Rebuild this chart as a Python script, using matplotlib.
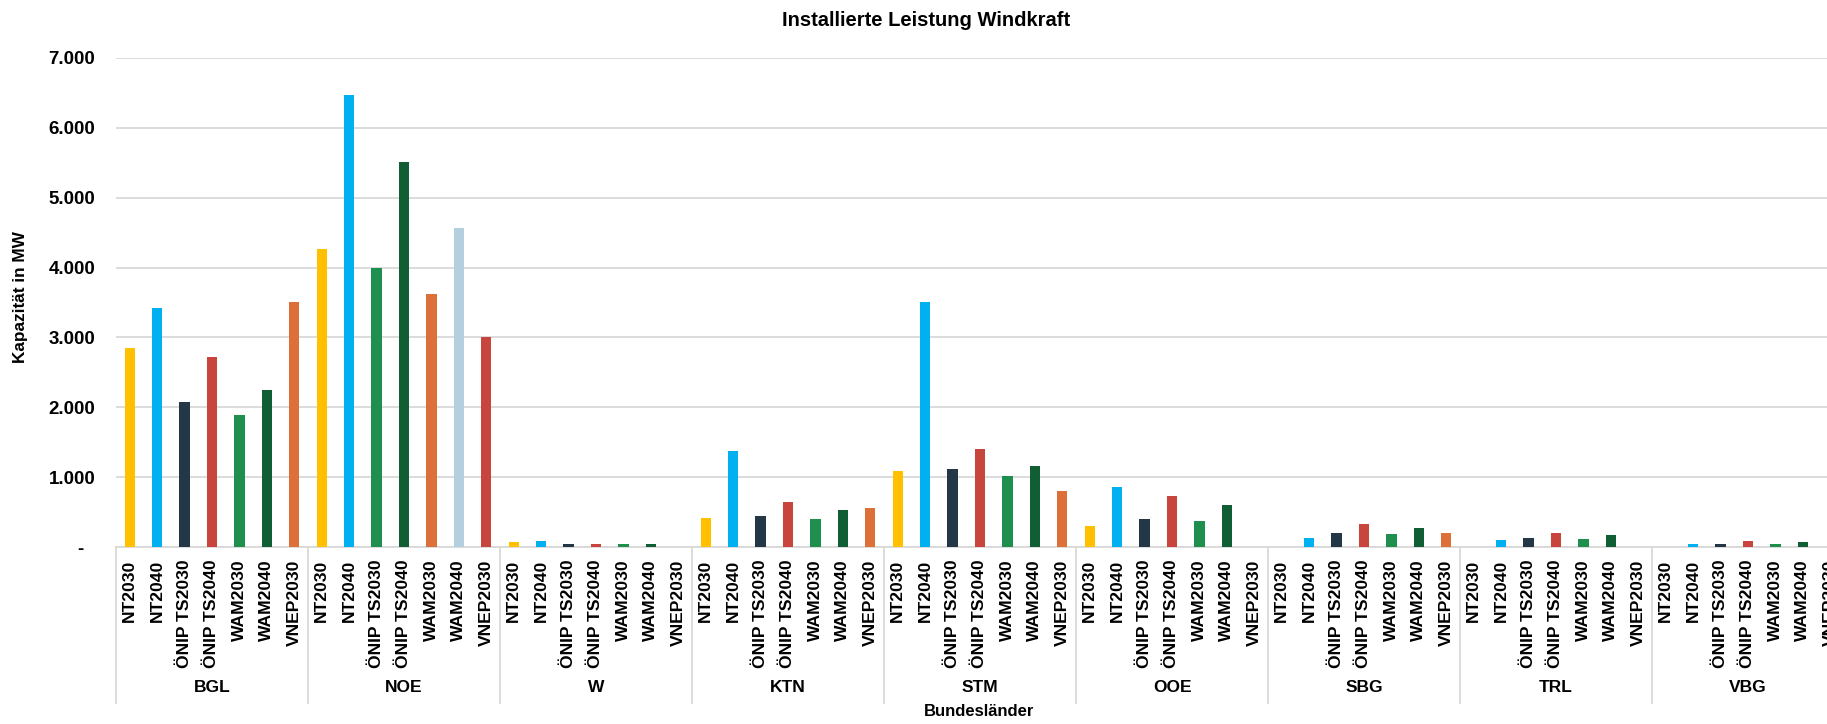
import matplotlib
matplotlib.use("Agg")
import matplotlib.pyplot as plt
import matplotlib.transforms as mtransforms

plt.rcParams['font.family'] = ['Liberation Sans', 'DejaVu Sans']

# ---- data ----
regions = ["BGL", "NOE", "W", "KTN", "STM", "OOE", "SBG", "TRL", "VBG"]
scenarios = ["NT2030", "NT2040", "ÖNIP TS2030", "ÖNIP TS2040", "WAM2030", "WAM2040", "VNEP2030"]

bgl = [2845, 3420, 2070, 2715, 1885, 2245, 3505]
noe = [4265, 6470, 3990, 5510, 3620, 4565, 3000]
w   = [67, 82, 38, 38, 38, 38, 0]
ktn = [413, 1380, 442, 644, 399, 529, 558]
stm = [1085, 3505, 1115, 1396, 1010, 1155, 803]
ooe = [298, 861, 399, 731, 370, 601, 0]
sbg = [0, 125, 197, 327, 183, 269, 197]
trl = [0, 96, 125, 197, 111, 168, 0]
vbg = [0, 38, 38, 82, 38, 67, 0]
values = [bgl, noe, w, ktn, stm, ooe, sbg, trl, vbg]

c_yellow = "#FFC000"
c_blue = "#00B0F0"
c_navy = "#243746"
c_red = "#C8453D"
c_green = "#1F8F50"
c_dkgreen = "#115E34"
c_orange = "#DD6F38"
c_ltblue = "#B4D0DE"
default_colors = [c_yellow, c_blue, c_navy, c_red, c_green, c_dkgreen, c_orange]
noe_colors = [c_yellow, c_blue, c_green, c_dkgreen, c_orange, c_ltblue, c_red]

yticks = [0, 1000, 2000, 3000, 4000, 5000, 6000, 7000]
ytick_labels = ["-  ", "1.000", "2.000", "3.000", "4.000", "5.000", "6.000", "7.000"]

# ---- figure ----
W_PX, H_PX = 1827, 724
fig = plt.figure(figsize=(W_PX / 100, H_PX / 100), dpi=100)
left_px, right_px = 116, 116 + 9 * 192
bottom_px, top_px = 547, 58
ax = fig.add_axes([left_px / W_PX, 1 - bottom_px / H_PX,
                   (right_px - left_px) / W_PX, (bottom_px - top_px) / H_PX])

n = len(scenarios)
xs, hs, cs, labels = [], [], [], []
for g, (reg, vals) in enumerate(zip(regions, values)):
    cols = noe_colors if reg == "NOE" else default_colors
    for i, v in enumerate(vals):
        xs.append(g * n + i)
        hs.append(v)
        cs.append(cols[i])
        labels.append(scenarios[i])

ax.bar(xs, hs, width=0.38, color=cs, zorder=3)
ax.set_xlim(-0.5, len(regions) * n - 0.5)
ax.set_ylim(0, 7000)

ax.set_yticks(yticks)
ax.set_yticklabels(ytick_labels, fontsize=13.5, fontweight='bold')
ax.tick_params(axis='y', length=0, pad=15)
ax.grid(axis='y', color='#D9D9D9', linewidth=1.3, zorder=0)
ax.set_axisbelow(True)

ax.set_xticks(xs)
ax.set_xticklabels(labels, rotation=90, fontsize=12.6, fontweight='bold', va='top', ha='center')
ax.tick_params(axis='x', length=0, pad=9)

for s in ['left', 'right', 'top']:
    ax.spines[s].set_visible(False)
ax.spines['bottom'].set_color('#D9D9D9')
ax.spines['bottom'].set_linewidth(1.3)

trans = mtransforms.blended_transform_factory(ax.transData, ax.transAxes)
sep_bottom = (bottom_px - 703) / (bottom_px - top_px)
for g in range(len(regions) + 1):
    xb = g * n - 0.5
    ax.plot([xb, xb], [0, sep_bottom], transform=trans, color='#D9D9D9',
            linewidth=1.3, clip_on=False)
grp_y = (bottom_px - 687) / (bottom_px - top_px)
for g, reg in enumerate(regions):
    ax.text(g * n + (n - 1) / 2, grp_y, reg, transform=trans, ha='center', va='center',
            fontsize=12.5, fontweight='bold')

fig.text(979 / W_PX, 1 - 712 / H_PX, "Bundesländer", ha='center', va='center',
         fontsize=12, fontweight='bold')
fig.text(21 / W_PX, 1 - 297 / H_PX, "Kapazität in MW", ha='center', va='center',
         rotation=90, fontsize=12.4, fontweight='bold')
fig.text(926 / W_PX, 1 - 21 / H_PX, "Installierte Leistung Windkraft", ha='center',
         va='center', fontsize=14.5, fontweight='bold')

fig.savefig("out.png", dpi=100)
